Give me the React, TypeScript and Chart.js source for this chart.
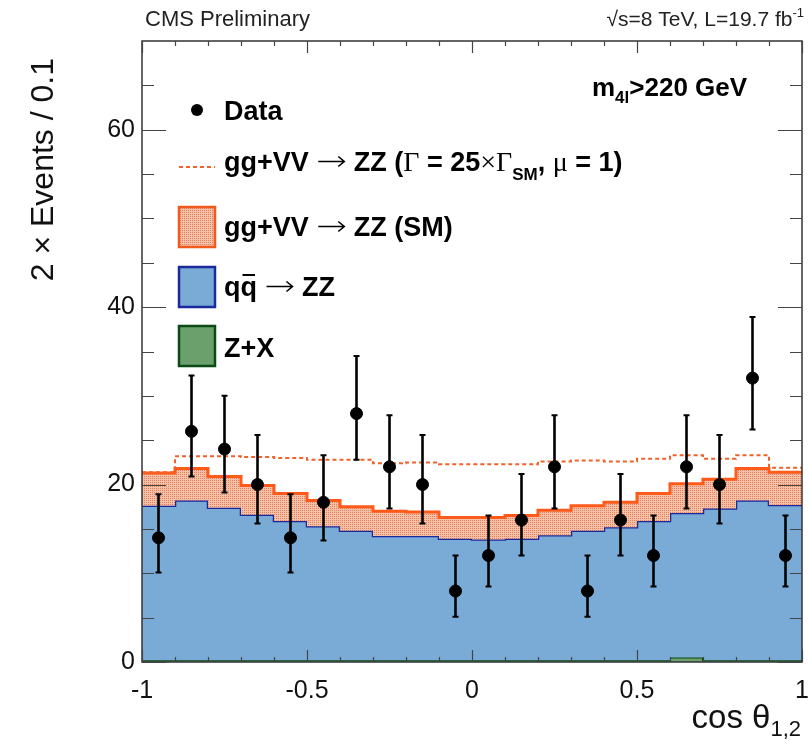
import React, { useEffect, useRef } from "react";
import { Chart, registerables } from "chart.js";

Chart.register(...registerables);

// ---- data ----
const binLowEdges = [-1, -0.9, -0.8, -0.7, -0.6, -0.5, -0.4, -0.3, -0.2, -0.1, 0, 0.1, 0.2, 0.3, 0.4, 0.5, 0.6, 0.7, 0.8, 0.9];
const binUpperEdge = 1;
const binCenters = [-0.95, -0.85, -0.75, -0.65, -0.55, -0.45, -0.35, -0.25, -0.15, -0.05, 0.05, 0.15, 0.25, 0.35, 0.45, 0.55, 0.65, 0.75, 0.85, 0.95];

const zxValues = [0.2, 0.2, 0.2, 0.2, 0.2, 0.2, 0.2, 0.2, 0.2, 0.2, 0.2, 0.2, 0.2, 0.2, 0.2, 0.2, 0.5, 0.2, 0.2, 0.2];
const qqZZValues = [17.4, 18.0, 17.2, 16.4, 15.7, 15.1, 14.6, 14.0, 14.0, 13.7, 13.6, 13.7, 14.1, 14.6, 15.0, 15.7, 16.3, 17.1, 18.0, 17.5];
const ggSMValues = [3.7, 3.6, 3.5, 3.3, 3.1, 2.9, 2.7, 2.8, 2.7, 2.4, 2.5, 2.6, 2.8, 2.8, 2.8, 3.1, 3.3, 3.3, 3.6, 3.7];
const gamma25Total = [21.4, 23.2, 23.2, 23.1, 23.0, 22.8, 22.8, 22.4, 22.5, 22.3, 22.3, 22.3, 22.6, 22.7, 22.6, 22.9, 23.3, 22.9, 23.3, 21.9];

const dataValues = [14, 26, 24, 20, 14, 18, 28, 22, 20, 8, 12, 16, 22, 8, 16, 12, 22, 20, 32, 12];
const dataErrLow = [10.1, 20.9, 19.1, 15.6, 10.1, 13.7, 22.8, 17.3, 15.6, 5.1, 8.5, 12.0, 17.3, 5.1, 12.0, 8.5, 17.3, 15.6, 26.2, 8.5];
const dataErrHigh = [18.9, 32.3, 30.0, 25.6, 18.9, 23.3, 34.5, 27.8, 25.6, 12.0, 16.5, 21.2, 27.8, 12.0, 21.2, 16.5, 27.8, 25.6, 38.9, 16.5];

const xTickValues = [-1, -0.5, 0, 0.5, 1];
const yTickValues = [0, 20, 40, 60];

// ---- helpers ----
function stepPoints(values: number[]) {
  const pts = binLowEdges.map((x, i) => ({ x, y: values[i] }));
  pts.push({ x: binUpperEdge, y: values[values.length - 1] });
  return pts;
}
function addArrays(a: number[], b: number[]) {
  return a.map((v, i) => v + b[i]);
}

const SANS = '"Liberation Sans", Arial, Helvetica, sans-serif';
const SERIF = '"Liberation Serif", "Times New Roman", serif';

type Run = { t: string; f: string; dy?: number; over?: boolean; arrow?: number };
function runW(ctx: CanvasRenderingContext2D, r: Run) {
  if (r.arrow) return r.arrow;
  ctx.font = r.f;
  return ctx.measureText(r.t).width;
}
function drawRuns(ctx: CanvasRenderingContext2D, x: number, y: number, runs: Run[]) {
  let cx = x;
  for (const r of runs) {
    const w = runW(ctx, r);
    if (r.arrow) {
      const ay = y - 9.5;
      ctx.save();
      ctx.strokeStyle = ctx.fillStyle as string;
      ctx.lineWidth = 1.6;
      ctx.beginPath();
      ctx.moveTo(cx + 2, ay);
      ctx.lineTo(cx + w - 2, ay);
      ctx.moveTo(cx + w - 8, ay - 5);
      ctx.lineTo(cx + w - 2, ay);
      ctx.lineTo(cx + w - 8, ay + 5);
      ctx.stroke();
      ctx.restore();
    } else {
      ctx.font = r.f;
      ctx.fillText(r.t, cx, y + (r.dy || 0));
      if (r.over) {
        ctx.save();
        ctx.strokeStyle = ctx.fillStyle as string;
        ctx.lineWidth = 2;
        ctx.beginPath();
        ctx.moveTo(cx + 2, y - 21);
        ctx.lineTo(cx + w - 2, y - 21);
        ctx.stroke();
        ctx.restore();
      }
    }
    cx += w;
  }
  return cx;
}
function runsWidth(ctx: CanvasRenderingContext2D, runs: Run[]) {
  let w = 0;
  for (const r of runs) w += runW(ctx, r);
  return w;
}

function makeHatch(): CanvasPattern | string {
  const c = document.createElement("canvas");
  c.width = 2;
  c.height = 2;
  const g = c.getContext("2d");
  if (!g) return "#eaa88c";
  g.fillStyle = "#f3c0a8";
  g.fillRect(0, 0, 2, 2);
  g.fillStyle = "#e4805e";
  g.fillRect(0, 0, 1, 1);
  const p = g.createPattern(c, "repeat");
  return p || "#eaa88c";
}

const cmsPlugin = {
  id: "cmsDecor",
  afterDatasetsDraw(chart: any) {
    const { ctx, chartArea: a, scales } = chart;
    const xs = scales.x;
    const ys = scales.y;
    ctx.save();
    // error bars
    ctx.strokeStyle = "#000";
    for (let i = 0; i < dataValues.length; i++) {
      const px = xs.getPixelForValue(binCenters[i]);
      const top = ys.getPixelForValue(dataErrHigh[i]);
      const bot = ys.getPixelForValue(dataErrLow[i]);
      ctx.lineWidth = 2.6;
      ctx.beginPath();
      ctx.moveTo(px, top);
      ctx.lineTo(px, bot);
      ctx.stroke();
      ctx.lineWidth = 2;
      ctx.beginPath();
      ctx.moveTo(px - 3, top);
      ctx.lineTo(px + 3, top);
      ctx.moveTo(px - 3, bot);
      ctx.lineTo(px + 3, bot);
      ctx.stroke();
    }
    // frame
    ctx.strokeStyle = "#333";
    ctx.lineWidth = 1.5;
    ctx.strokeRect(a.left, a.top, a.right - a.left, a.bottom - a.top);
    // ticks
    ctx.lineWidth = 1.2;
    ctx.strokeStyle = "#444";
    ctx.beginPath();
    for (let k = 0; k <= 14; k++) {
      const v = k * 5;
      const py = Math.round(ys.getPixelForValue(v)) + 0.5;
      if (py < a.top + 1) continue;
      const len = k % 4 === 0 ? 24 : 12;
      ctx.moveTo(a.left, py);
      ctx.lineTo(a.left + len, py);
      ctx.moveTo(a.right, py);
      ctx.lineTo(a.right - len, py);
    }
    for (let k = 0; k <= 20; k++) {
      const v = -1 + k * 0.1;
      const px = Math.round(xs.getPixelForValue(v)) + 0.5;
      const len = k % 5 === 0 ? 12 : 5;
      ctx.moveTo(px, a.bottom);
      ctx.lineTo(px, a.bottom - len);
      ctx.moveTo(px, a.top);
      ctx.lineTo(px, a.top + len);
    }
    ctx.stroke();
    ctx.restore();
  },
  afterDraw(chart: any) {
    const { ctx } = chart;
    ctx.save();
    ctx.textAlign = "left";
    ctx.textBaseline = "alphabetic";

    // header
    ctx.fillStyle = "#222";
    ctx.font = `22px ${SANS}`;
    ctx.fillText("CMS Preliminary", 145, 26);
    const lumRuns: Run[] = [
      { t: "\u221As=8 TeV, L=19.7 fb", f: `21px ${SANS}` },
      { t: "-1", f: `13px ${SANS}`, dy: -9 },
    ];
    const lw = runsWidth(ctx, lumRuns);
    drawRuns(ctx, 804 - lw, 26, lumRuns);

    ctx.fillStyle = "#000";
    // m4l label
    drawRuns(ctx, 592, 96, [
      { t: "m", f: `bold 26px ${SANS}` },
      { t: "4l", f: `bold 17px ${SANS}`, dy: 7 },
      { t: ">220 GeV", f: `bold 26px ${SANS}` },
    ]);

    // legend
    const B = `bold 27px ${SANS}`;
    const S = `28px ${SERIF}`;
    // Data
    ctx.beginPath();
    ctx.arc(197, 110, 6, 0, Math.PI * 2);
    ctx.fill();
    drawRuns(ctx, 224, 120, [{ t: "Data", f: B }]);
    // dashed line
    ctx.save();
    ctx.strokeStyle = "#f0622a";
    ctx.lineWidth = 2.2;
    ctx.setLineDash([4, 3]);
    ctx.beginPath();
    ctx.moveTo(179, 167);
    ctx.lineTo(215, 167);
    ctx.stroke();
    ctx.restore();
    drawRuns(ctx, 224, 171, [
      { t: "gg+VV ", f: B },
      { t: "", f: B, arrow: 30 },
      { t: " ZZ (", f: B },
      { t: "\u0393", f: S },
      { t: " = 25", f: B },
      { t: "\u00D7", f: S },
      { t: "\u0393", f: S },
      { t: "SM", f: `bold 17px ${SANS}`, dy: 9 },
      { t: ", ", f: B },
      { t: "\u03BC", f: S },
      { t: " = 1)", f: B },
    ]);
    // boxes
    const box = (y0: number, fill: any, stroke: string) => {
      ctx.save();
      ctx.fillStyle = fill;
      ctx.fillRect(179, y0, 36, 40);
      ctx.strokeStyle = stroke;
      ctx.lineWidth = 2.5;
      ctx.strokeRect(179, y0, 36, 40);
      ctx.restore();
    };
    box(207, chart.$hatch, "#f05a1e");
    drawRuns(ctx, 224, 236, [
      { t: "gg+VV ", f: B },
      { t: "", f: B, arrow: 30 },
      { t: " ZZ (SM)", f: B },
    ]);
    box(267, "#7aaad6", "#1a2a9c");
    drawRuns(ctx, 224, 296, [
      { t: "q", f: B },
      { t: "q", f: B, over: true },
      { t: " ", f: B },
      { t: "", f: B, arrow: 30 },
      { t: " ZZ", f: B },
    ]);
    box(326, "#6b9f6b", "#0b4a14");
    drawRuns(ctx, 224, 357, [{ t: "Z+X", f: B }]);

    // axis titles
    ctx.fillStyle = "#111";
    const xtRuns: Run[] = [
      { t: "cos \u03B8", f: `33px ${SANS}` },
      { t: "1,2", f: `22px ${SANS}`, dy: 8 },
    ];
    const xw = runsWidth(ctx, xtRuns);
    drawRuns(ctx, 801 - xw, 728, xtRuns);

    ctx.save();
    ctx.font = `32px ${SANS}`;
    const ytxt = "2 \u00D7 Events / 0.1";
    const yw = ctx.measureText(ytxt).width;
    ctx.translate(53, 58 + yw);
    ctx.rotate(-Math.PI / 2);
    ctx.fillText(ytxt, 0, 0);
    ctx.restore();

    ctx.restore();
  },
};

export default function App() {
  const ref = useRef<HTMLCanvasElement | null>(null);
  useEffect(() => {
    if (!ref.current) return;
    const hatch = makeHatch();
    const zxTop = zxValues.slice();
    const blueTop = addArrays(zxTop, qqZZValues);
    const orangeTop = addArrays(blueTop, ggSMValues);

    const chart = new Chart(ref.current, {
      type: "line",
      data: {
        datasets: [
          {
            type: "scatter",
            label: "Data",
            data: binCenters.map((c, i) => ({ x: c, y: dataValues[i] })),
            pointRadius: 6,
            pointHoverRadius: 6,
            backgroundColor: "#000",
            borderColor: "#000",
            showLine: false,
          } as any,
          {
            label: "gg+VV → ZZ (Γ = 25×ΓSM, μ = 1)",
            data: stepPoints(gamma25Total),
            stepped: "before",
            borderColor: "#f0622a",
            borderWidth: 2,
            borderDash: [4, 3],
            pointRadius: 0,
            fill: false,
          },
          {
            label: "gg+VV → ZZ (SM)",
            data: stepPoints(orangeTop),
            stepped: "before",
            borderColor: "#ff5a1a",
            borderWidth: 3,
            pointRadius: 0,
            backgroundColor: hatch as any,
            fill: "+1",
          },
          {
            label: "qq̄ → ZZ",
            data: stepPoints(blueTop),
            stepped: "before",
            borderColor: "#1a2a9c",
            borderWidth: 2.5,
            pointRadius: 0,
            backgroundColor: "#7aaad6",
            fill: "+1",
          },
          {
            label: "Z+X",
            data: stepPoints(zxTop),
            stepped: "before",
            borderColor: "#0b4a14",
            borderWidth: 2,
            pointRadius: 0,
            backgroundColor: "#6b9f6b",
            fill: "origin",
          },
        ],
      },
      options: {
        responsive: false,
        animation: false,
        events: [],
        layout: { padding: { left: 0, top: 41, right: 6, bottom: 0 } },
        plugins: { legend: { display: false }, tooltip: { enabled: false }, title: { display: false } },
        scales: {
          x: {
            type: "linear",
            min: -1,
            max: 1,
            grid: { display: false, drawTicks: false },
            border: { display: false },
            afterBuildTicks: (s: any) => {
              s.ticks = xTickValues.map((v) => ({ value: v }));
            },
            afterFit: (s: any) => {
              s.height = 90;
              s.paddingLeft = 0;
              s.paddingRight = 0;
            },
            ticks: {
              autoSkip: false,
              maxRotation: 0,
              padding: 14,
              color: "#111",
              font: { family: "Liberation Sans", size: 25 },
              callback: (v: any) => String(v),
            },
          },
          y: {
            type: "linear",
            min: 0,
            max: 70,
            grid: { display: false, drawTicks: false },
            border: { display: false },
            afterBuildTicks: (s: any) => {
              s.ticks = yTickValues.map((v) => ({ value: v }));
            },
            afterFit: (s: any) => {
              s.width = 142;
              s.paddingTop = 0;
              s.paddingBottom = 0;
            },
            ticks: {
              padding: 7,
              color: "#111",
              font: { family: "Liberation Sans", size: 25 },
              callback: (v: any) => String(v),
            },
          },
        },
      },
      plugins: [cmsPlugin],
    } as any);
    (chart as any).$hatch = hatch;
    chart.draw();
    return () => chart.destroy();
  }, []);

  return (
    <div style={{ position: "fixed", left: 0, top: 0, width: 809, height: 752, background: "#fff" }}>
      <canvas ref={ref} width={809} height={752} style={{ width: 809, height: 752, display: "block" }} />
    </div>
  );
}
